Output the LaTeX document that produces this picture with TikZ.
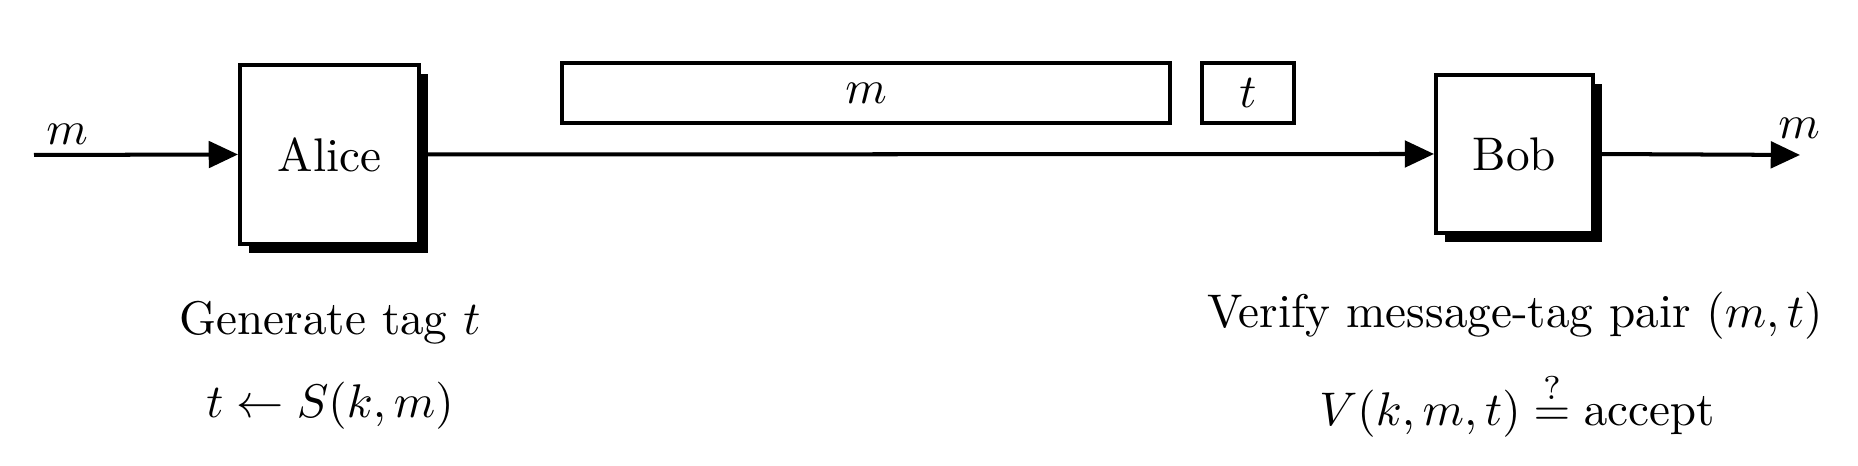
\documentclass[tikz,border=0pt]{standalone}
\usetikzlibrary{arrows.meta,shadows}
\begin{document}
\begin{tikzpicture}[x=0.21186pt,y=-0.21186pt,
  party/.style={draw,line width=0.85pt,fill=white,inner sep=0pt,
    drop shadow={shadow xshift=2pt,shadow yshift=-2pt,fill=black,opacity=1}},
  packet/.style={draw,line width=0.85pt,fill=white,inner sep=0pt,minimum height=12.71pt},
  flow/.style={line width=0.85pt,-{Triangle[length=6.2pt,width=5.6pt]}},
  caption/.style={anchor=base,inner sep=0pt}]
\useasboundingbox (0,0) rectangle (1858,466);
\node[party,minimum width=37.92pt,minimum height=37.92pt] (alice) at (329.5,154.5) {Alice};
\node[party,minimum width=33.26pt,minimum height=33.47pt] (bob) at (1514.5,154) {Bob};
\node[packet,minimum width=128.8pt] (msg) at (866,93) {$m$};
\node[packet,minimum width=19.49pt] (tag) at (1248,93) {$t$};
\coordinate (in) at (34,155);
\coordinate (out) at (1800,155);
\draw[flow] (in) -- (alice.west);
\draw[flow] (alice.east) -- (bob.west);
\draw[flow] (bob.east) -- (out);
\node[caption] (min) at (67,145) {$m$};
\node[caption] (mout) at (1799,139) {$m$};
\node[caption] (gen) at (330,335) {Generate tag $t$};
\node[caption] (sig) at (330,418) {$t \leftarrow S(k,m)$};
\node[caption] (ver) at (1515,328) {Verify message-tag pair $(m,t)$};
\node[caption] (vrf) at (1517,426) {$V(k,m,t) \stackrel{?}{=} \mathrm{accept}$};
\end{tikzpicture}
\end{document}
